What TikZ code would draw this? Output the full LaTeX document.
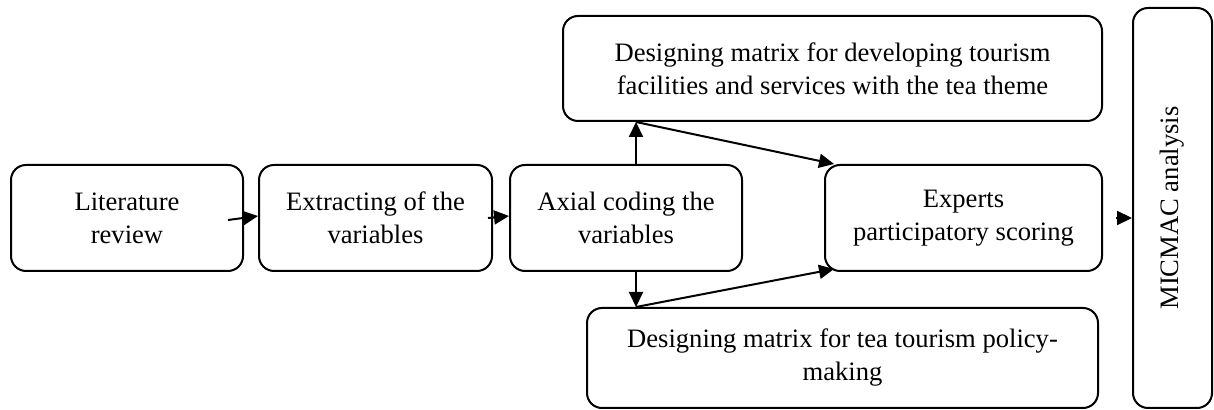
\documentclass[tikz,border=0pt]{standalone}
\usepackage{fontspec}
\setmainfont{Liberation Serif}
\usetikzlibrary{arrows.meta}
\begin{document}
\begin{tikzpicture}[x=0.5pt,y=-0.5pt,
  box/.style={draw, line width=1pt, rounded corners=7.5pt, inner sep=0pt, align=center,
    font=\fontsize{13.3}{16.5}\selectfont},
  arr/.style={line width=1pt, -{Triangle[length=7.5pt,width=7pt]}}]
\useasboundingbox (0,0) rectangle (1214,410);
\node[box, minimum width=116pt, minimum height=53pt] (lit) at (127,218) {Literature\\review};
\node[box, minimum width=116.5pt, minimum height=53pt] (ext) at (375.5,218) {Extracting of the\\variables};
\node[box, minimum width=116pt, minimum height=53pt] (axi) at (626,218) {Axial coding the\\variables};
\node[box, minimum width=138.5pt, minimum height=53pt] (exp) at (963.5,218) {Experts\\participatory scoring};
\node[box, minimum width=269.5pt, minimum height=52.5pt] (top) at (832.5,68.5) {Designing matrix for developing tourism\\facilities and services with the tea theme};
\node[box, minimum width=255.5pt, minimum height=50pt] (bot) at (842.5,358) {Designing matrix for tea tourism policy-\\making};
\node[box, minimum width=39.5pt, minimum height=200pt] (mic) at (1172.5,208) {};
\node[rotate=90, font=\fontsize{13.3}{16.5}\selectfont] (mict) at (mic.center) {MICMAC analysis};
\coordinate (at) at ([xshift=5pt]axi.north);
\coordinate (ab) at ([xshift=5pt]axi.south);
\coordinate (jt) at (at |- top.south);
\coordinate (jb) at (ab |- bot.north);
\draw[arr] ([xshift=-8pt,yshift=-1pt]lit.east) -- ([yshift=1pt]ext.west);
\draw[arr] ([xshift=-2.5pt]ext.east) -- ([yshift=1pt]axi.west);
\draw[arr] (at) -- (jt);
\draw[arr] (jt) -- ([xshift=5pt]exp.north west);
\draw[arr] (ab) -- (jb);
\draw[arr] (jb) -- ([xshift=5pt,yshift=1.5pt]exp.south west);
\draw[arr] ([xshift=6.5pt]exp.east) -- (mic.west |- exp.east);
\end{tikzpicture}
\end{document}
